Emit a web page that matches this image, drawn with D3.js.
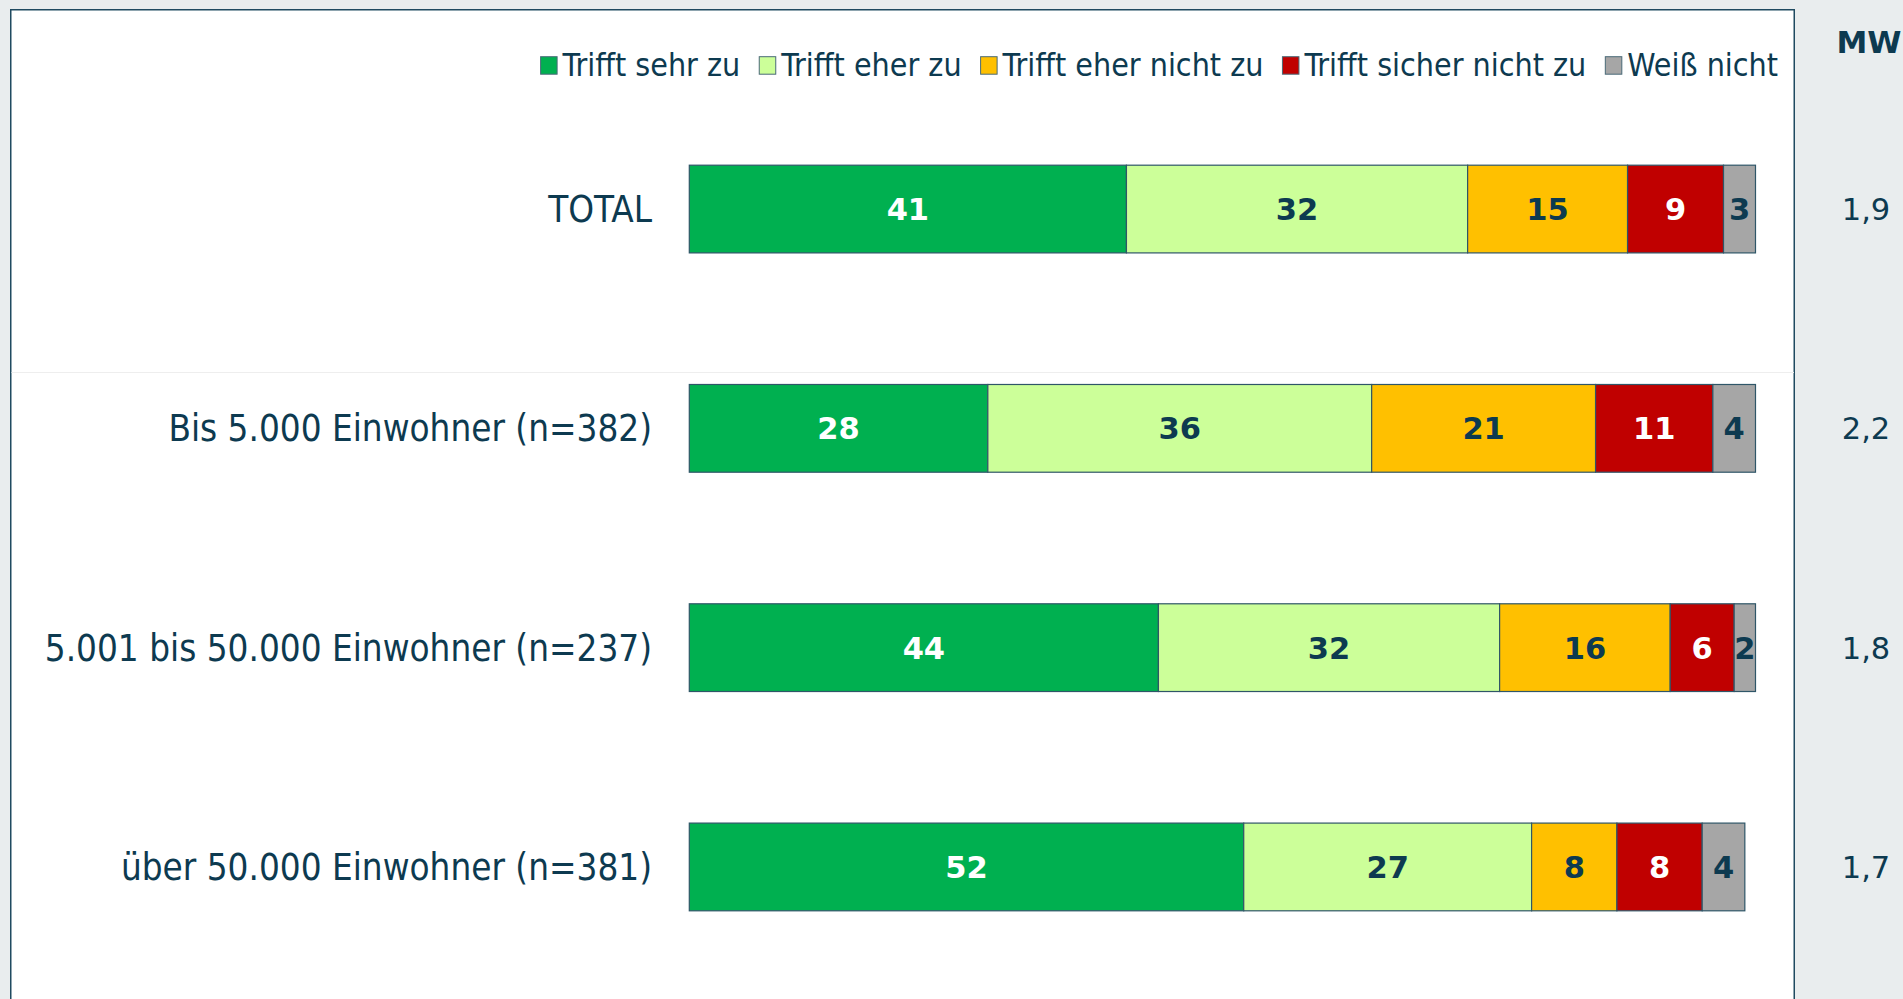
<!DOCTYPE html>
<html>
<head>
<meta charset="utf-8">
<script src="https://cdn.jsdelivr.net/npm/d3@7"></script>
<style>
  html, body { margin: 0; padding: 0; background: #e9edee; overflow: hidden; }
  svg { display: block; }
  .cond { font-family: 'DejaVu Sans Condensed', 'DejaVu Sans', sans-serif; font-stretch: condensed; }
  .verd { font-family: 'DejaVu Sans', Verdana, sans-serif; }
</style>
</head>
<body>
<script>
var W = 1903, H = 999

// data
var categories = ['TOTAL', 'Bis 5.000 Einwohner (n=382)', '5.001 bis 50.000 Einwohner (n=237)', 'über 50.000 Einwohner (n=381)']
var seriesNames = ['Trifft sehr zu', 'Trifft eher zu', 'Trifft eher nicht zu', 'Trifft sicher nicht zu', 'Weiß nicht']
var sehrZu = [41, 28, 44, 52]
var eherZu = [32, 36, 32, 27]
var eherNicht = [15, 21, 16, 8]
var sicherNicht = [9, 11, 6, 8]
var weissNicht = [3, 4, 2, 4]
var mw = ['1,9', '2,2', '1,8', '1,7']

var colors = ['#00b050', '#ccff99', '#ffc000', '#c00000', '#a6a6a6']
var labelColors = ['#ffffff', '#0d3a50', '#0d3a50', '#ffffff', '#0d3a50']
var ink = '#0d3a50'

var rows = categories.map(function (c, i) {
  var r = {cat: c}
  r[seriesNames[0]] = sehrZu[i]
  r[seriesNames[1]] = eherZu[i]
  r[seriesNames[2]] = eherNicht[i]
  r[seriesNames[3]] = sicherNicht[i]
  r[seriesNames[4]] = weissNicht[i]
  return r
})
var stacked = d3.stack().keys(seriesNames)(rows)

var x = d3.scaleLinear().domain([0, 100]).range([689.3, 1755.5])
var y = d3.scaleBand().domain(categories).range([99.4, 976.6]).paddingInner(0.6).paddingOuter(0.3)

var svg = d3.select('body').append('svg')
  .attr('width', W)
  .attr('height', H)

// white panel
svg.append('rect')
  .attr('x', 10.75).attr('y', 9.75)
  .attr('width', 1783.5).attr('height', H + 20)
  .attr('fill', '#ffffff')
  .attr('stroke', '#1f4a60')
  .attr('stroke-width', 1.5)

// faint divider after TOTAL
svg.append('line')
  .attr('x1', 11.5).attr('x2', 1794)
  .attr('y1', 372.5).attr('y2', 372.5)
  .attr('stroke', '#eeeeee')
  .attr('stroke-width', 1)

// bars
var layer = svg.selectAll('g.layer')
  .data(stacked)
  .enter().append('g')
  .attr('class', 'layer')

layer.selectAll('rect')
  .data(d => d.map(s => ({s: s, key: d.key, idx: d.index})))
  .enter().append('rect')
  .attr('x', d => x(d.s[0]))
  .attr('y', d => y(d.s.data.cat))
  .attr('width', d => x(d.s[1]) - x(d.s[0]))
  .attr('height', y.bandwidth())
  .attr('fill', d => colors[d.idx])
  .attr('stroke', '#2f5668')
  .attr('stroke-width', 1.2)

layer.selectAll('text')
  .data(d => d.map(s => ({s: s, key: d.key, idx: d.index})))
  .enter().append('text')
  .attr('class', 'verd')
  .attr('x', d => (x(d.s[0]) + x(d.s[1])) / 2)
  .attr('y', d => y(d.s.data.cat) + y.bandwidth() / 2)
  .attr('dy', '0.36em')
  .attr('text-anchor', 'middle')
  .attr('font-size', 30.5)
  .attr('font-weight', 'bold')
  .attr('fill', d => labelColors[d.idx])
  .text(d => d.s[1] - d.s[0])

// category labels
svg.selectAll('text.cat')
  .data(categories)
  .enter().append('text')
  .attr('class', 'cat cond')
  .attr('x', 652)
  .attr('y', d => y(d) + y.bandwidth() / 2)
  .attr('dy', '0.36em')
  .attr('text-anchor', 'end')
  .attr('font-size', 36.5)
  .attr('fill', ink)
  .text(d => d)

// MW column
svg.append('text')
  .attr('class', 'verd')
  .attr('x', 1869).attr('y', 53)
  .attr('text-anchor', 'middle')
  .attr('font-size', 31)
  .attr('font-weight', 'bold')
  .attr('fill', ink)
  .text('MW')

svg.selectAll('text.mw')
  .data(mw)
  .enter().append('text')
  .attr('class', 'mw verd')
  .attr('x', 1866)
  .attr('y', (d, i) => y(categories[i]) + y.bandwidth() / 2)
  .attr('dy', '0.36em')
  .attr('text-anchor', 'middle')
  .attr('font-size', 30.5)
  .attr('fill', ink)
  .text(d => d)

// legend, right aligned
var legend = svg.append('g')
var items = legend.selectAll('g')
  .data(seriesNames)
  .enter().append('g')
items.append('rect')
  .attr('x', 0).attr('y', 56.7)
  .attr('width', 16.5).attr('height', 17.5)
  .attr('fill', (d, i) => colors[i])
  .attr('stroke', '#4a6a78')
  .attr('stroke-width', 1)
items.append('text')
  .attr('class', 'cond')
  .attr('x', 22)
  .attr('y', 75.7)
  .attr('font-size', 31.9)
  .attr('fill', ink)
  .text(d => d)

var widths = []
items.select('text').each(function () { widths.push(this.getComputedTextLength()) })
var pos = 1778
for (var i = seriesNames.length - 1; i >= 0; i--) {
  pos -= widths[i] + 22
  widths[i] = pos
  pos -= 19
}
items.attr('transform', (d, i) => `translate(${widths[i]},0)`)
</script>
</body>
</html>
